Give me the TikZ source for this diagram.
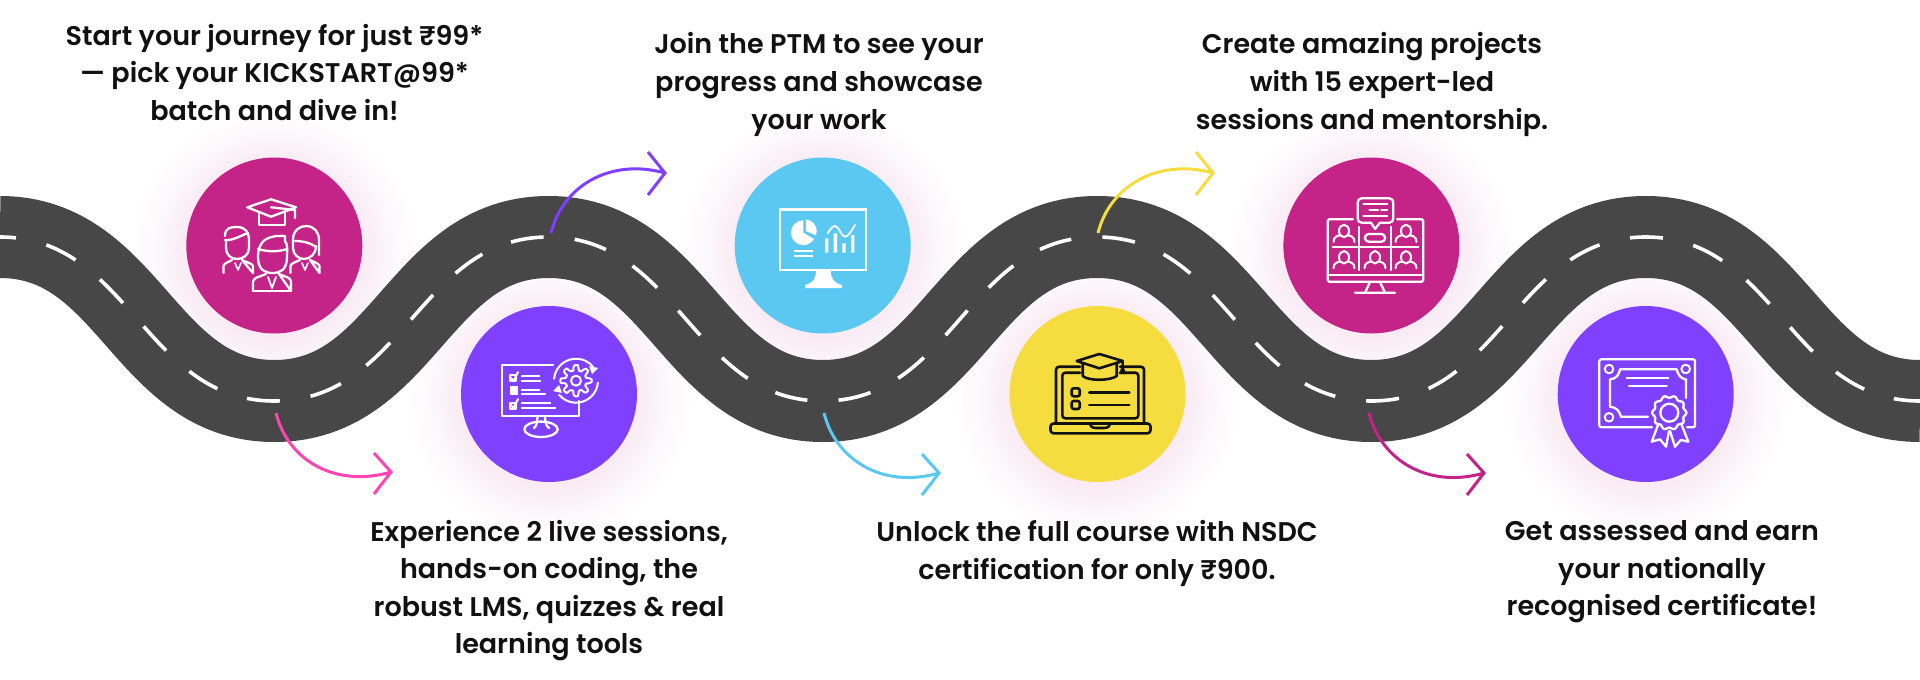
\documentclass[tikz,border=0pt]{standalone}
\usepackage{fontspec}
\newfontfamily\pop{Poppins SemiBold}
\definecolor{roadc}{HTML}{474747}
\definecolor{magc}{HTML}{C42388}
\definecolor{purc}{HTML}{7F40FF}
\definecolor{skyc}{HTML}{5BC8F2}
\definecolor{yelc}{HTML}{F5DC3F}
\definecolor{hotc}{HTML}{FF45B4}
\definecolor{inkc}{HTML}{111111}
\pgfdeclareradialshading{halo}{\pgfpoint{0bp}{0bp}}{%
 color(0bp)=(magc!9!white); color(15.5bp)=(magc!9!white); color(18bp)=(magc!6.5!white); color(21bp)=(magc!3!white); color(25bp)=(white); color(50bp)=(white)}
\tikzset{
  x=1pt,y=-1pt,
  stop/.style={circle,inner sep=0pt,minimum size=176pt,fill=#1},
  label/.style={align=center,text=inkc,inner sep=0pt,font=\pop\fontsize{27}{37.6}\selectfont},
  flow/.style={line width=3pt,draw=#1,fill=none},
  ico/.style={line width=2.3pt,draw=white,line join=round,line cap=round,fill=none},
  icb/.style={line width=2.6pt,draw=inkc,line join=round,line cap=round,fill=none},
}
\newcommand{\glowat}[2]{\shade[shading=halo] (#1,#2+4) circle[radius=142];}
\newcommand{\roadline}{(0,237) .. controls (130,237) and (144.3,401) .. (274.3,401)
 .. controls (404.3,401) and (418.6,237) .. (548.6,237)
 .. controls (678.6,237) and (692.9,401) .. (822.9,401)
 .. controls (952.9,401) and (967.1,237) .. (1097.1,237)
 .. controls (1227.1,237) and (1241.4,401) .. (1371.4,401)
 .. controls (1501.4,401) and (1515.7,237) .. (1645.7,237)
 .. controls (1775.7,237) and (1790,401) .. (1920,401)}
\newcommand{\persona}[2]{\draw[ico,line width=2pt] (#1,#2) ellipse[x radius=5,y radius=6.2];
 \draw[ico,line width=2pt] (#1-10.5,#2+11) .. controls (#1-10.5,#2+5) and (#1-6,#2+5) .. (#1-3.5,#2+4)
  (#1+3.5,#2+4) .. controls (#1+6,#2+5) and (#1+10.5,#2+5) .. (#1+10.5,#2+11);}
\begin{document}
\begin{tikzpicture}
\useasboundingbox (0,0) rectangle (1920,680);
\fill[white] (0,0) rectangle (1920,680);
\glowat{274.3}{245.5}\glowat{549}{394}\glowat{822.7}{245.5}\glowat{1097.5}{394}\glowat{1371.4}{245.5}\glowat{1645.7}{394}
\draw[roadc,line width=82pt] \roadline;
\draw[white,line width=3.6pt,dash pattern=on 33pt off 31.2pt,dash phase=17pt] \roadline;
% stops
\node[stop=magc] (c1) at (274.3,245.5) {};
\node[stop=purc] (c2) at (549,394) {};
\node[stop=skyc] (c3) at (822.7,245.5) {};
\node[stop=yelc] (c4) at (1097.5,394) {};
\node[stop=magc] (c5) at (1371.4,245.5) {};
\node[stop=purc] (c6) at (1645.7,394) {};
% labels
\node[label] (t1) at (274.5,72.5) {Start your journey for just ₹99*\\— pick your KICKSTART@99*\\batch and dive in!};
\node[label] (t2) at (549,590.5) {Experience 2 live sessions,\\hands-on coding, the\\robust LMS, quizzes \& real\\learning tools};
\node[label] (t3) at (819,84.5) {Join the PTM to see your\\progress and showcase\\your work};
\node[label] (t4) at (1097,553.5) {Unlock the full course with NSDC\\certification for only ₹900.};
\node[label] (t5) at (1372,84.5) {Create amazing projects\\with 15 expert-led\\sessions and mentorship.};
\node[label] (t6) at (1662,572) {Get assessed and earn\\your nationally\\recognised certificate!};
% connector ends
\coordinate (s1) at (276,413); \coordinate (e1) at (391,472);
\coordinate (s2) at (551,233); \coordinate (e2) at (665,173);
\coordinate (s3) at (824,413); \coordinate (e3) at (939,473);
\coordinate (s4) at (1098,233); \coordinate (e4) at (1213,173);
\coordinate (s5) at (1369,413); \coordinate (e5) at (1484,473);
\draw[flow=hotc] (s1) .. controls +(12,48) and +(-55,16) .. (e1) ++(-17,-19) -- (e1) -- ++(-17,22);
\draw[flow=purc] (s2) .. controls +(12,-48) and +(-54,-15) .. (e2) ++(-17,-21) -- (e2) -- ++(-17,22);
\draw[flow=skyc] (s3) .. controls +(12,48) and +(-55,16) .. (e3) ++(-17,-19) -- (e3) -- ++(-17,22);
\draw[flow=yelc] (s4) .. controls +(12,-48) and +(-54,-15) .. (e4) ++(-17,-21) -- (e4) -- ++(-17,22);
\draw[flow=magc] (s5) .. controls +(12,48) and +(-55,16) .. (e5) ++(-17,-19) -- (e5) -- ++(-17,22);
% icon 1
\draw[ico] (247.3,207.3) -- (271,199.3) -- (296,207.3) -- (271,216.7) -- cycle;
\draw[ico] (259.3,212) -- (259.3,225) -- (285,225) -- (285,212);
\draw[ico] (271,207.3) -- (295,210) -- (295,218);
% middle person
\draw[ico] (258,257) .. controls (258,240) and (268,235) .. (285,236) -- (285,241) .. controls (288,245) and (287,250) .. (287,257) .. controls (287,270) and (280,273) .. (272.5,273) .. controls (265,273) and (258,270) .. (258,257) -- cycle;
\draw[ico] (258,249) .. controls (268,252) and (278,252) .. (287,249);
\draw[ico] (253,291) -- (253,282) .. controls (253,277) and (260,277) .. (266,274) (279,274) .. controls (285,277) and (291,277) .. (291,282) -- (291,291) -- cycle;
\draw[ico,line width=1.8pt] (253,291) -- (291,291) (268,277) -- (272,288) -- (276,277);
% left person
\draw[ico] (225,236) .. controls (225,228) and (230,227) .. (237,227) .. controls (245,227) and (249,232) .. (249,240) -- (249,248) .. controls (249,255) and (243,259) .. (237,259) .. controls (231,259) and (226,255) .. (226,248) -- (226,241);
\draw[ico] (225,240) .. controls (232,241) and (240,236) .. (248,233);
\draw[ico] (223.5,273) -- (223.5,266) .. controls (224,263) and (229,262) .. (232,260) (242,260) .. controls (245,262) and (252,263) .. (253,266) -- (253,273) -- cycle;
\draw[ico,line width=1.6pt] (235,263) -- (238,270) -- (241,263);
% right person
\draw[ico] (293,240) .. controls (293,230) and (300,226) .. (306,226) .. controls (314,226) and (319,232) .. (319,240) -- (319,255);
\draw[ico] (293,240) -- (293,248) .. controls (293,255) and (299,259) .. (304,259) .. controls (310,259) and (316,254) .. (316,246);
\draw[ico] (295,241) .. controls (303,241) and (311,243) .. (316,247);
\draw[ico] (290.5,273) -- (290.5,266) .. controls (291,263) and (296,262) .. (300,260) (310,260) .. controls (313,262) and (319,263) .. (319.5,266) -- (319.5,273) -- cycle;
\draw[ico,line width=1.6pt] (302,263) -- (305,270) -- (308,263);
% icon 2
\draw[ico] (553,365) -- (501.7,365) -- (501.7,416) -- (579.3,416) -- (579.3,401);
\draw[ico,line width=2pt] plot[smooth cycle,samples=65,domain=0:354.375] ({576+(13+2.6*max(min(2.2*cos(8*\x),1),-1))*cos(\x)},{380.7+(13+2.6*max(min(2.2*cos(8*\x),1),-1))*sin(\x)});
\draw[ico,line width=2pt] (576,380.7) circle[radius=5];
\draw[ico,line width=2pt] (576,380.7) ++(-40:22) arc[start angle=-40,end angle=-175,radius=22];
\draw[ico,line width=2pt] (576,380.7) ++(140:22) arc[start angle=140,end angle=5,radius=22];
\fill[white] (598,368) -- (589,366) -- (592,374) -- cycle;
\fill[white] (553,391) -- (562,393) -- (559,385) -- cycle;
\draw[ico,line width=1.6pt] (510,375) rectangle (516,381);
\draw[ico,line width=2pt] (510,377) -- (513.5,381) -- (518,372);
\fill[white] (509.5,385.5) rectangle (517.5,394.5);
\draw[ico,line width=1.6pt] (510,403) rectangle (516,409);
\draw[ico,line width=2pt] (510,404) -- (513.5,408) -- (518,399);
\draw[ico,line cap=butt] (521,376) -- (540,376) (521,380.7) -- (541,380.7) (521,390) -- (540,390) (521,394.3) -- (546,394.3) (521,403.3) -- (551,403.3) (521,407.7) -- (556,407.7);
\draw[ico] (537.5,417) .. controls (537,423) and (536.5,426) .. (534,428) (545,417) .. controls (545.5,423) and (546,426) .. (549,428);
\draw[ico] (541,429.3) ellipse[x radius=16.7,y radius=7.7];
% icon 3
\draw[ico,line width=2.6pt,line cap=butt,line join=miter] (780,209.3) rectangle (866,270);
\fill[white] (816,270) -- (830.7,270) .. controls (830.7,279) and (834,283) .. (842,285) -- (842,288) -- (805,288) -- (805,285) .. controls (813,283) and (816,279) .. (816,270) -- cycle;
\fill[white] (803.3,232.7) -- (803.3,220.3) arc[start angle=-90,end angle=-270,radius=12.4] arc[start angle=90,end angle=30,radius=12.4] -- cycle;
\fill[white] (805.8,231) -- (805.8,219.4) arc[start angle=-85,end angle=20,radius=12] -- cycle;
\draw[white,line width=1.8pt] (794,250.7) -- (813.3,250.7) (794,255.7) -- (813.3,255.7);
\fill[white] (825,238.3) rectangle (828.4,252.7) (833.6,233.3) rectangle (837,252.7) (842.3,243.3) rectangle (845.7,252.7) (851,235) rectangle (854.4,252.7);
\draw[ico,line width=1.8pt] (827.7,233.3) .. controls (830,230) and (832,226) .. (835,226) .. controls (839,226) and (841,236.7) .. (845,236.7) .. controls (849,236.7) and (852,229) .. (855,225);
% icon 4
\draw[icb] (1080,366.7) -- (1062,366.7) [rounded corners=3pt] -- (1056,366.7) -- (1056,421.7);
\draw[icb] (1120,366.7) -- (1138,366.7) [rounded corners=3pt] -- (1144,366.7) -- (1144,421.7);
\draw[icb,rounded corners=3pt] (1080,372.7) -- (1062.3,372.7) -- (1062.3,418.3) -- (1138.3,418.3) -- (1138.3,372.7) -- (1120,372.7);
\draw[icb,rounded corners=3pt] (1050.5,423.5) rectangle (1150.5,433.3);
\draw[icb] (1090,424) .. controls (1091,428) and (1094,428) .. (1098,428) -- (1102,428) .. controls (1106,428) and (1109,428) .. (1110,424);
\draw[icb] (1076.7,361) -- (1099.3,354) -- (1122.7,361) -- (1099.3,368.3) -- cycle;
\draw[icb] (1082.7,364) -- (1082.7,376) .. controls (1088,381) and (1110,381) .. (1116.7,376) -- (1116.7,364);
\fill[inkc] (1121.7,361) -- (1123.7,361) -- (1124,368) -- (1126.5,374) -- (1119,374) -- (1121.2,368) -- cycle;
\draw[icb,rounded corners=2pt] (1071.7,388.3) rectangle (1079.7,396.3);
\draw[icb,rounded corners=2pt] (1071.7,401) rectangle (1079.7,409);
\draw[icb] (1089.3,392.3) -- (1129.3,392.3) (1089.3,405) -- (1129.3,405);
% icon 5
\draw[ico,rounded corners=1.5pt] (1353,219.3) -- (1327.7,219.3) -- (1327.7,281.7) -- (1423.3,281.7) -- (1423.3,219.3) -- (1397,219.3);
\draw[ico] (1327.7,275) -- (1423.3,275);
\draw[ico] (1359.3,227) -- (1359.3,270) (1391,227) -- (1391,270) (1332.7,246.7) -- (1418.3,246.7);
\draw[ico,rounded corners=4pt] (1371,222.7) -- (1357.7,222.7) -- (1357.7,198.3) -- (1393.3,198.3) -- (1393.3,222.7) -- (1380,222.7);
\draw[ico] (1371,222.7) -- (1375,229) -- (1380,222.7);
\draw[ico,line width=2pt] (1363.3,204) -- (1387.3,204) (1369.3,210) -- (1378,210) (1381,210) -- (1387,210) (1363.3,216) -- (1387.3,216);
\draw[ico,rounded corners=3.5pt] (1365,234) rectangle (1385,241.7);
\persona{1344}{231}\persona{1406}{231}\persona{1344}{257.3}\persona{1375}{257.3}\persona{1406}{257.3}
\draw[ico] (1370,282) -- (1365,292.7) (1380,282) -- (1385,292.7) (1355,292.7) -- (1395,292.7);
% icon 6
\draw[ico,rounded corners=2pt] (1652,427.3) -- (1599.3,427.3) -- (1599.3,359.3) -- (1695,359.3) -- (1695,427.3) -- (1687,427.3);
\draw[ico,line width=2pt] (1609,369) circle[radius=4.3] (1685.7,369) circle[radius=4.3] (1609,417.3) circle[radius=4.3];
\draw[ico] (1648,416.7) -- (1621,416.7) .. controls (1619,410) and (1616,407.5) .. (1610,406.7) -- (1610,379.3) .. controls (1616,379) and (1619,375) .. (1620,369.3) -- (1676.7,369.3) .. controls (1678,375) and (1681,379) .. (1686,379.3) -- (1686,398);
\draw[ico] (1626.7,377.7) -- (1668.3,377.7) (1629,385.7) -- (1666.7,385.7);
\draw[ico] plot[smooth cycle,samples=61,domain=0:354] ({1669.3+(16+1.2*cos(10*\x))*cos(\x)},{412.7+(16+1.2*cos(10*\x))*sin(\x)});
\draw[ico] (1669.3,412.7) circle[radius=9];
\draw[ico] (1658,425) -- (1651.7,441.7) -- (1660,439.3) -- (1666,446.7) -- (1669,431);
\draw[ico] (1681.7,425) -- (1688.3,441.7) -- (1680.7,440) -- (1675,446.7) -- (1670,431);
\end{tikzpicture}
\end{document}
